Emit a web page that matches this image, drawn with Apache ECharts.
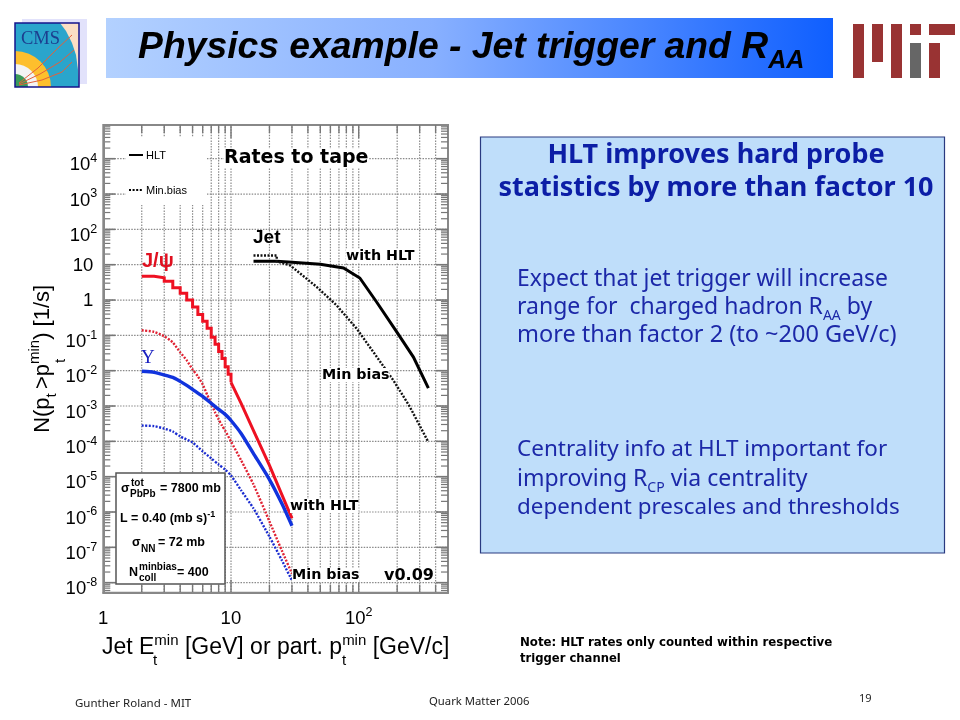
<!DOCTYPE html>
<html><head><meta charset="utf-8">
<style>html,body{margin:0;padding:0;background:#fff}#c{width:960px;height:720px}</style>
<script src="https://cdn.jsdelivr.net/npm/echarts@6/dist/echarts.min.js"></script>
</head><body><div id="c"></div>
<script>
// ---- data ----
const jpsiHltStepX = [2,2.5,3,3.5,4,4.5,5,5.5,6,6.5,7,7.5,8,8.5,9,9.5,10];
const jpsiHltStepY = [4.69,4.26,3.39,2.22,1.55,1.01,0.64,0.39,0.25,0.158,0.088,0.056,0.035,0.022,0.013,0.0079,0.0047];
const jpsiHltTailX = [10,12,15,20,25,30];
const jpsiHltTailY = [0.0047,0.00119,0.0002,2.1e-5,3.1e-6,6.6e-7];
const jpsiMbX = [2,2.5,3,3.5,4,4.5,5,5.5,6,6.5,7,7.5,8,8.5,9,10,12,15,20,25,30];
const jpsiMbY = [0.139,0.126,0.094,0.063,0.033,0.0196,0.0109,0.0069,0.0041,0.0021,0.00119,6.6e-4,4.2e-4,2.8e-4,2.0e-4,9.9e-5,2.9e-5,6.0e-6,5.4e-7,8.1e-8,1.8e-8];
const upsHltX = [2,2.5,3,3.5,4,4.5,5,6,7,8,9,10,12,15,20,25,30];
const upsHltY = [0.0096,0.00895,0.0076,0.00646,0.00498,0.00384,0.00295,0.00187,0.00119,8.0e-4,5.8e-4,3.9e-4,1.67e-4,4.5e-5,8.3e-6,1.74e-6,4.1e-7];
const upsMbX = [2,2.5,3,3.5,4,5,6,7,8,9,10,12,15,20,25,30];
const upsMbY = [2.8e-4,2.7e-4,2.3e-4,1.9e-4,1.38e-4,9.3e-5,5.2e-5,3.3e-5,2.2e-5,1.6e-5,1.08e-5,4.1e-6,1.26e-6,2.0e-7,4.3e-8,1.15e-8];
const jetHltX = [15,22.8,30,50,76,102,138,199,268,351];
const jetHltY = [12.5,12.5,11.7,10.3,8.06,4.2,0.88,0.124,0.0243,0.0032];
const jetMbX = [15,22.8,22.8,29,39,47,67,96,130,187,250,351];
const jetMbY = [18.3,18.3,12.5,9.6,4.04,2.33,0.71,0.158,0.034,0.0053,9.8e-4,9.5e-5];
const xGridValues = [2,3,4,5,6,7,8,9,10,20,30,40,50,60,70,80,90,100,200,300,400];
const yDecades = [1e-8,1e-7,1e-6,1e-5,1e-4,1e-3,1e-2,1e-1,1,10,100,1e3,1e4];
const yMinorMultipliers = [2,3,4,5,6,7,8,9];
const X_MIN = 1, X_MAX = 500, Y_MIN = 5.2e-9, Y_MAX = 9e4;

const SANS = '"Liberation Sans",Arial,sans-serif';
const TXT = '"Noto Sans",Tahoma,sans-serif';
const DJ = '"DejaVu Sans",sans-serif';
const zip = (a,b) => a.map((v,i)=>[v,b[i]]);

function T(text,x,y,o){ o=o||{};
  return {type:'text',x:x,y:y,z:o.z==null?6:o.z,rotation:o.rotation||0,silent:true,
    style:{text:text,fill:o.fill||'#000',font:(o.style||'normal')+' '+(o.weight||'normal')+' '+(o.size||12)+'px '+(o.family||SANS),
      align:o.align||'left',verticalAlign:o.va||'middle',rich:o.rich,backgroundColor:o.bg,padding:o.pad}};
}
function R(x,y,w,h,fill,z,stroke,lw){return {type:'rect',z:z==null?1:z,silent:true,shape:{x:x,y:y,width:w,height:h},style:{fill:fill,stroke:stroke||null,lineWidth:lw||0}};}

const yMinor=[]; yDecades.concat([1e-9]).forEach(d=>yMinorMultipliers.forEach(m=>{const v=d*m; if(v>Y_MIN&&v<Y_MAX) yMinor.push(v);}));
const GRID='#8a8a8a', TICK='#777';
function vRender(params,api){
  const v=api.value(0), a=api.coord([v,Y_MIN]), b=api.coord([v,Y_MAX]);
  const major=(v===10||v===100), L=major?13:8;
  return {type:'group',children:[
    {type:'line',shape:{x1:a[0],y1:a[1],x2:b[0],y2:b[1]},style:{stroke:GRID,lineWidth:1.2,lineDash:[1.5,1.3]}},
    {type:'line',shape:{x1:a[0],y1:a[1],x2:a[0],y2:a[1]-L},style:{stroke:TICK,lineWidth:1.4}},
    {type:'line',shape:{x1:b[0],y1:b[1],x2:b[0],y2:b[1]+L},style:{stroke:TICK,lineWidth:1.4}}
  ]};
}
function hRender(params,api){
  const v=api.value(1), major=api.value(2)===1, a=api.coord([X_MIN,v]), b=api.coord([X_MAX,v]);
  const L=major?12:7, kids=[
    {type:'line',shape:{x1:a[0],y1:a[1],x2:a[0]+L,y2:a[1]},style:{stroke:TICK,lineWidth:major?1.6:1.2}},
    {type:'line',shape:{x1:b[0],y1:b[1],x2:b[0]-L,y2:b[1]},style:{stroke:TICK,lineWidth:major?1.6:1.2}}];
  if(major) kids.unshift({type:'line',shape:{x1:a[0],y1:a[1],x2:b[0],y2:b[1]},style:{stroke:GRID,lineWidth:1.2,lineDash:[1.5,1.3]}});
  return {type:'group',children:kids};
}
function line(name,xs,ys,color,w,dotted,step,smooth){
  return {name:name,type:'line',data:zip(xs,ys),z:3,showSymbol:false,symbol:'none',step:step||false,smooth:smooth||false,clip:true,silent:true,
    lineStyle:{color:color,width:w,type:dotted?[2,1.5]:'solid',join:'miter'}};
}
function yLabel(v){
  const r=Math.round(Math.log10(v));
  if(r===0) return '{c|1}{p|}';
  if(r===1) return '{c|10}{p|}';
  return '{b|10}{s|'+r+'}';
}
function xLabel(v){
  const e=Math.log10(v), r=Math.round(e);
  if(Math.abs(e-r)>1e-6) return '';
  if(r===0) return '{b|1}{z| }';
  if(r===1) return '{b|10}{z| }';
  return '{b|10}{s|'+r+'}';
}
const labelRich={
  b:{fontSize:18.5,color:'#000',fontFamily:SANS,lineHeight:22,verticalAlign:'bottom'},
  c:{fontSize:18.5,color:'#000',fontFamily:SANS,lineHeight:22,padding:[2,0,0,0]},
  s:{fontSize:12.5,color:'#000',fontFamily:SANS,lineHeight:32,verticalAlign:'middle'},
  z:{fontSize:1,color:'#000',lineHeight:32,verticalAlign:'top'},
  p:{width:4,height:1}};

const RED='#ee1122',BLUE='#1133dd',REDM='#e02233',BLUEM='#1a2bd0';
const option={
  animation:false,backgroundColor:'#fff',
  grid:{left:103.3,top:125,width:344.7,height:467.7,show:true,borderColor:'#888',borderWidth:2,backgroundColor:'transparent'},
  xAxis:{type:'log',min:X_MIN,max:X_MAX,logBase:10,splitLine:{show:false},minorTick:{show:false},minorSplitLine:{show:false},
    axisTick:{show:false},axisLine:{show:true,lineStyle:{color:'#888',width:2}},
    axisLabel:{formatter:xLabel,rich:labelRich,margin:4,showMinLabel:true,showMaxLabel:false},
    name:'Jet E{s|min} [GeV] or part. p{s|min} [GeV/c]',nameLocation:'middle',nameGap:40,
    nameTextStyle:{fontSize:23,fontFamily:SANS,color:'#000',rich:{s:{fontSize:15,fontFamily:SANS,color:'#000',verticalAlign:'top',lineHeight:28}}}},
  yAxis:{type:'log',min:Y_MIN,max:Y_MAX,logBase:10,splitLine:{show:false},minorTick:{show:false},minorSplitLine:{show:false},
    axisTick:{show:false},axisLine:{show:true,lineStyle:{color:'#888',width:2}},
    axisLabel:{customValues:yDecades,formatter:yLabel,rich:labelRich,margin:6,showMinLabel:true,showMaxLabel:true},
    name:'N(p{u|t }>p{s|min}) [1/s]',nameLocation:'middle',nameRotate:90,nameGap:44,
    nameTextStyle:{fontSize:22,fontFamily:SANS,color:'#000',rich:{
      s:{fontSize:15,fontFamily:SANS,color:'#000',verticalAlign:'top',lineHeight:28},
      u:{fontSize:15,fontFamily:SANS,color:'#000',verticalAlign:'bottom',lineHeight:32}}}},
  series:[
    {name:'vertical grid',type:'custom',z:0,silent:true,data:xGridValues.map(v=>[v,Y_MAX]),renderItem:vRender,encode:{x:0,y:1},clip:false},
    {name:'horizontal grid',type:'custom',z:0,silent:true,data:yDecades.map(v=>[X_MIN,v,1]).concat(yMinor.map(v=>[X_MIN,v,0])),renderItem:hRender,encode:{x:0,y:1},clip:false},
    line('J/psi HLT',jpsiHltStepX,jpsiHltStepY,RED,3,false,'end'),
    line('J/psi HLT tail',jpsiHltTailX,jpsiHltTailY,RED,3,false),
    line('J/psi Min.bias',jpsiMbX,jpsiMbY,REDM,2.4,true,false,0.2),
    line('Upsilon HLT',upsHltX,upsHltY,BLUE,3.4,false,false,0.2),
    line('Upsilon Min.bias',upsMbX,upsMbY,BLUEM,2.4,true,false,0.2),
    line('Jet HLT',jetHltX,jetHltY,'#000',3,false),
    line('Jet Min.bias',jetMbX,jetMbY,'#111',2.4,true)
  ],
  graphic:{elements:[
    {type:'rect',z:1,silent:true,shape:{x:106,y:18,width:727,height:60},style:{fill:new echarts.graphic.LinearGradient(0,0,1,0,[{offset:0,color:'#b3d1ff'},{offset:.45,color:'#88b0ff'},{offset:1,color:'#0f5fff'}])}},
    T('Physics example - Jet trigger and R{a|AA}',138,48,{size:37.3,weight:'bold',style:'italic',z:6,
      rich:{a:{font:'italic bold 25px '+SANS,fill:'#000',verticalAlign:'bottom',lineHeight:52}}}),
    R(22,19,65,65,'#e2e2fb',1),
    R(15,23,64,64,'#fbdfc4',2),
    {type:'polygon',z:2,silent:true,shape:{points:[[15,23],[60,23],[66,31],[72,43],[76,55],[78,70],[79,87],[15,87]]},style:{fill:'#2aa5cc'}},
    {type:'sector',z:2,silent:true,shape:{cx:15,cy:87,r:36,r0:0,startAngle:-Math.PI/2,endAngle:0},style:{fill:'#fdbf2d'}},
    {type:'sector',z:2,silent:true,shape:{cx:15,cy:87,r:23,r0:0,startAngle:-Math.PI/2,endAngle:0},style:{fill:'#f3f3f3'}},
    {type:'sector',z:2,silent:true,shape:{cx:15,cy:87,r:13,r0:0,startAngle:-Math.PI/2,endAngle:0},style:{fill:'#3a9a5a'}},
    {type:'polyline',z:3,silent:true,shape:{points:[[19,83],[38,68],[58,48],[72,35]]},style:{stroke:'#e4603a',fill:null,lineWidth:1}},
    {type:'polyline',z:3,silent:true,shape:{points:[[19,84],[40,74],[60,62],[74,50]]},style:{stroke:'#e4603a',fill:null,lineWidth:1}},
    {type:'polyline',z:3,silent:true,shape:{points:[[19,85],[42,80],[62,72],[72,62]]},style:{stroke:'#e4603a',fill:null,lineWidth:1}},
    R(15,23,64,64,'rgba(0,0,0,0)',4,'#14148c',1.5),
    T('CMS',21,39,{size:18.5,family:'"Liberation Serif",serif',fill:'#1c3f8f',z:5}),
    R(853,24,11,54,'#993333'),R(872,24,11,38,'#993333'),R(891,24,11,54,'#993333'),
    R(910,24,11,11,'#993333'),R(910,43,11,35,'#666666'),R(929,24,26,11,'#993333'),R(929,43,11,35,'#993333'),
    R(126,137,81,68,'#ffffff',1),
    {type:'line',z:6,silent:true,shape:{x1:129,y1:155,x2:143,y2:155},style:{stroke:'#000',lineWidth:2}},
    T('HLT',146,155.5,{size:11}),
    {type:'line',z:6,silent:true,shape:{x1:129,y1:190,x2:143,y2:190},style:{stroke:'#000',lineWidth:2,lineDash:[2,1.6]}},
    T('Min.bias',146,191,{size:11}),
    T('Rates to tape',224,158,{size:19,weight:'bold',family:DJ,bg:'#fff'}),
    T('Jet',253,238,{size:19,weight:'bold'}),
    T('with HLT',346,256,{size:14.3,weight:'bold',family:DJ,bg:'#fff'}),
    T('Min bias',322,375,{size:14.3,weight:'bold',family:DJ,bg:'#fff'}),
    T('with HLT',290,506,{size:14.3,weight:'bold',family:DJ,bg:'#fff'}),
    T('Min bias',292,575,{size:14.3,weight:'bold',family:DJ,bg:'#fff'}),
    T('v0.09',384,576,{size:16,weight:'bold',family:DJ}),
    T('J/\u03c8',142,261,{size:20,weight:'bold',fill:'#e01020'}),
    T('\u03a5',141,358,{size:19,family:'"Liberation Serif",serif',fill:'#1a20c0'}),
    T('t',155,661,{size:15,align:'center',z:6}),
    T('t',344,661,{size:15,align:'center',z:6}),
    T('t',61,361,{size:15,align:'center',rotation:Math.PI/2,z:6}),
    R(116,473,109,111,'#fff',4,'#555',1.5),
    T('\u03c3',121,489,{size:12.5,weight:'bold'}),T('tot',131,483,{size:10,weight:'bold'}),T('PbPb',130,494,{size:10,weight:'bold'}),
    T('= 7800 mb',160,489,{size:12.5,weight:'bold'}),
    T('L = 0.40 (mb s){s|-1}',120,519,{size:12.5,weight:'bold',rich:{s:{font:'bold 9px '+SANS,fill:'#000',verticalAlign:'top',lineHeight:18}}}),
    T('\u03c3',132,543,{size:12.5,weight:'bold'}),T('NN',141,549,{size:10,weight:'bold'}),T('= 72 mb',158,543,{size:12.5,weight:'bold'}),
    T('N',129,573,{size:12.5,weight:'bold'}),T('minbias',139,567,{size:10,weight:'bold'}),T('coll',139,578,{size:10,weight:'bold'}),T('= 400',177,573,{size:12.5,weight:'bold'}),
    R(480.5,137,464,416,'#bfdefa',1,'#2a3a80',1.2),
    T('HLT improves hard probe',716,155,{size:27,weight:'bold',family:TXT,fill:'#0c1ea6',align:'center'}),
    T('statistics by more than factor 10',716,188,{size:27,weight:'bold',family:TXT,fill:'#0c1ea6',align:'center'}),
    T('Expect that jet trigger will increase',517,279,{size:22.9,family:TXT,fill:'#1c28a8'}),
    T('range for  charged hadron R{a|AA} by',517,307,{size:23,family:TXT,fill:'#1c28a8',rich:{a:{font:'14px '+TXT,fill:'#1c28a8',verticalAlign:'bottom',lineHeight:33}}}),
    T('more than factor 2 (to ~200 GeV/c)',517,335,{size:23.5,family:TXT,fill:'#1c28a8'}),
    T('Centrality info at HLT important for',517,450,{size:22.5,family:TXT,fill:'#1c28a8'}),
    T('improving R{a|CP} via centrality',517,479,{size:23,family:TXT,fill:'#1c28a8',rich:{a:{font:'14px '+TXT,fill:'#1c28a8',verticalAlign:'bottom',lineHeight:33}}}),
    T('dependent prescales and thresholds',517,508,{size:22.4,family:TXT,fill:'#1c28a8'}),
    T('Note: HLT rates only counted within respective',520,643,{size:11.8,weight:'bold',family:DJ}),
    T('trigger channel',520,659,{size:11.6,weight:'bold',family:DJ}),
    T('Gunther Roland - MIT',75,704,{size:11.5,family:TXT,fill:'#222'}),
    T('Quark Matter 2006',429,702,{size:11.3,family:TXT,fill:'#222'}),
    T('19',859,699,{size:11,family:TXT,fill:'#222'})
  ]}
};
echarts.init(document.getElementById('c')).setOption(option);
</script></body></html>
